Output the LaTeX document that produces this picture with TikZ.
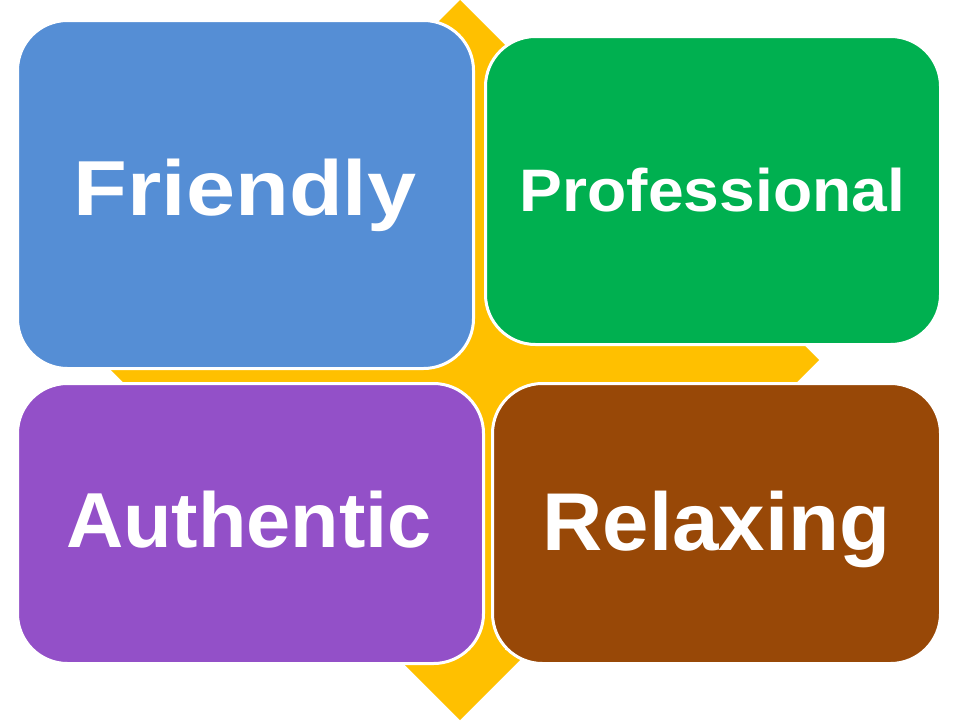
\documentclass[tikz,border=0pt]{standalone}
\usepackage{fontspec}
\setmainfont{Liberation Sans}
\definecolor{cyellow}{HTML}{FFC000}
\definecolor{cblue}{HTML}{558ED5}
\definecolor{cgreen}{HTML}{00B050}
\definecolor{cpurple}{HTML}{9350C8}
\definecolor{cbrown}{HTML}{984807}
\begin{document}
\begin{tikzpicture}[x=1pt,y=-1pt,
  card/.style={rectangle,rounded corners=50pt,draw=white,line width=3pt,inner sep=0pt,outer sep=0pt},
  lbl/.style={text=white,inner sep=0pt,anchor=base,font=\bfseries}]
\useasboundingbox (0,0) rectangle (960,720);
\fill[cyellow] (460,0) -- (530,70) -- (505,70) -- (505,315) -- (749,315) -- (749,290) -- (819,360)
  -- (749,430) -- (749,405) -- (505,405) -- (505,650) -- (530,650) -- (460,720) -- (390,650)
  -- (415,650) -- (415,405) -- (171,405) -- (171,430) -- (101,360) -- (171,290) -- (171,315)
  -- (415,315) -- (415,70) -- (390,70) -- cycle;
\node[card,fill=cblue,minimum width=456pt,minimum height=348pt] (blue) at (245.5,194.5) {};
\node[card,fill=cgreen,minimum width=455pt,minimum height=308pt] (green) at (713,190.5) {};
\node[card,fill=cpurple,minimum width=466pt,minimum height=280pt] (purple) at (250.5,523.5) {};
\node[card,fill=cbrown,minimum width=448pt,minimum height=280pt] (brown) at (716.5,523.5) {};
\node[lbl,font=\fontsize{78}{90}\selectfont\bfseries,xscale=1.13] (t1) at (245,215) {Friendly};
\node[lbl,font=\fontsize{60}{70}\selectfont\bfseries,xscale=1.07] (t2) at (712.5,211) {Professional};
\node[lbl,font=\fontsize{78}{90}\selectfont\bfseries,xscale=1.017] (t3) at (249,547) {Authentic};
\node[lbl,font=\fontsize{82}{90}\selectfont\bfseries,xscale=1.018] (t4) at (716.5,550) {Relaxing};
\end{tikzpicture}
\end{document}
